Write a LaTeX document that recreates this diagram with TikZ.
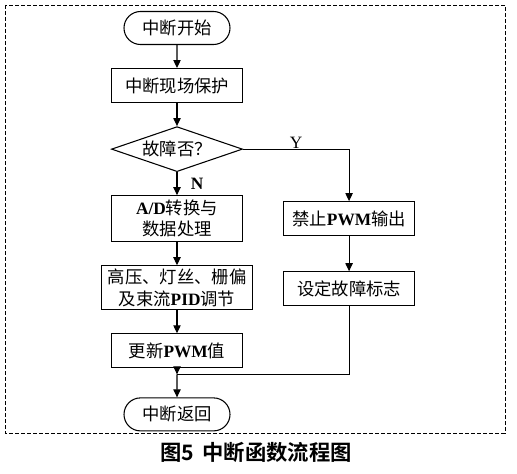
\documentclass[tikz,border=0pt]{standalone}
\usepackage{fontspec}
\setmainfont{Liberation Serif}
\newfontfamily\cjk{Noto Sans CJK SC}
\newfontfamily\cjkbf{Noto Sans CJK SC Bold}
\usetikzlibrary{shapes.geometric, shapes.misc, positioning, arrows.meta}
\newcommand{\lat}[1]{{\rmfamily\bfseries #1}}

\begin{document}
\begin{tikzpicture}[
			x=0.75pt, y=-0.75pt,
			node distance=17.25pt,
			font=\cjk\fontsize{13}{16}\selectfont,
			line width=0.8pt,
			term_node/.style={
				rounded rectangle,
				draw=black,
				minimum width=79.5pt,
				minimum height=24.75pt,
				inner sep=0pt
			},
			default_node/.style={
				rectangle,
				draw=black,
				text centered,
				align=center,
				minimum width=98.25pt,
				minimum height=25.5pt,
				inner sep=2pt
			},
			decision_node/.style={
				diamond,
				draw=black,
				aspect=2.9,
				minimum width=98.25pt,
				minimum height=33.75pt,
				inner sep=0pt
			},
			desc/.style={
				font=\rmfamily\fontsize{13}{15}\selectfont,
				inner sep=0pt
			},
			line/.style={
				-{Triangle[width=5.5pt,length=6pt]}
			}
			]
			
			\useasboundingbox (0,0) rectangle (517,474);
			
			% Frame
			
			\draw [dashed, line width=0.6pt, dash pattern=on 3pt off 1.5pt] (5,5) rectangle (505,433);
			
			% Main flow
			
			\node [term_node] (start) at (177,28) {中断开始};
			\node [default_node, below=of start] (save) {中断现场保护};
			\node [decision_node, below=of save] (fault) {故障否？};
			\node [default_node, minimum height=34.5pt, below=of fault] (adc) {\lat{A/D}转换与\\数据处理};
			\node [default_node, minimum width=113.25pt, minimum height=33pt, below=of adc] (pid) {高压、灯丝、栅偏\\及束流\lat{PID}调节};
			\node [default_node, below=of pid] (pwm) {更新\lat{PWM}值};
			\coordinate [below=4.5pt of pwm] (join);
			\node [term_node, below=21.75pt of pwm] (ret) {中断返回};
			
			% Fault branch
			
			\node [default_node, right=30pt of adc] (ban) {禁止\lat{PWM}输出};
			\node [default_node, below=26.25pt of ban] (flag) {设定故障标志};
			
			% Connections
			
			\draw [line] (start) -- (save);
			\draw [line] (save) -- (fault);
			\draw [line] (fault) -- node [desc, right=10pt, font=\rmfamily\bfseries\fontsize{13}{15}\selectfont] {N} (adc);
			\draw [line] (fault.east) -| node [desc, above, pos=0.25] {Y} (ban);
			\draw [line] (ban) -- (flag);
			\draw [line] (adc) -- (pid);
			\draw [line] (pid) -- (pwm);
			\draw [line] (pwm) -- (join);
			\draw (flag) |- (join);
			\draw [line] (join) -- (ret);
			
			% Caption
			
			\node [font=\cjkbf\fontsize{16}{18}\selectfont] (title) at (256,452) {图5\hspace{0.4em}中断函数流程图};
			
		\end{tikzpicture}
\end{document}
